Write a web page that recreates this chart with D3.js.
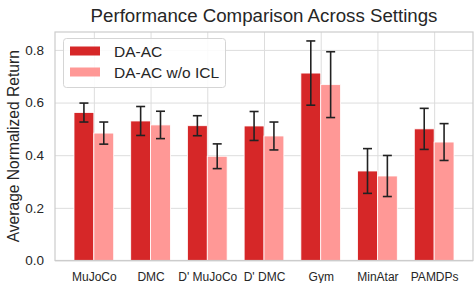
<!DOCTYPE html>
<html>
<head>
<meta charset="utf-8">
<script src="https://cdn.jsdelivr.net/npm/d3@7"></script>
<style>
  body { margin: 0; background: #fff; }
  svg { display: block; font-family: "Liberation Sans", Arial, sans-serif; }
  .grid line { stroke: #dddddd; stroke-width: 1; }
  .grid path { display: none; }
</style>
</head>
<body>
<svg id="chart" width="474" height="283"></svg>
<script>
const settings = ['MuJoCo', 'DMC', "D' MuJoCo", "D' DMC", 'Gym', 'MinAtar', 'PAMDPs'];
const daac = [0.562, 0.530, 0.512, 0.511, 0.712, 0.340, 0.500];
const daacErr = [0.036, 0.055, 0.038, 0.055, 0.122, 0.085, 0.078];
const noIcl = [0.484, 0.515, 0.396, 0.473, 0.668, 0.321, 0.450];
const noIclErr = [0.042, 0.052, 0.047, 0.053, 0.125, 0.078, 0.070];
const yTicks = [0, 0.2, 0.4, 0.6, 0.8];

const series = [
  { name: 'DA-AC', values: daac, errors: daacErr, color: '#d62728', offset: -1 },
  { name: 'DA-AC w/o ICL', values: noIcl, errors: noIclErr, color: '#ff9896', offset: 1 }
];

const barWidth = 0.35;
const plot = { left: 55, right: 473, top: 32, bottom: 260.5 };

const svg = d3.select('#chart');

const x = d3.scaleLinear()
  .domain([-0.685, settings.length - 1 + 0.685])
  .range([plot.left, plot.right]);
const y = d3.scaleLinear()
  .domain([0, 0.868])
  .range([plot.bottom, plot.top]);

// grid lines
svg.append('g').attr('class', 'grid')
  .attr('transform', `translate(0, ${plot.bottom})`)
  .call(d3.axisBottom(x).tickValues(d3.range(settings.length))
    .tickSize(-(plot.bottom - plot.top)).tickFormat(''));
svg.append('g').attr('class', 'grid')
  .attr('transform', `translate(${plot.left}, 0)`)
  .call(d3.axisLeft(y).tickValues(yTicks)
    .tickSize(-(plot.right - plot.left)).tickFormat(''));

// bars
series.forEach(s => {
  svg.append('g').selectAll('rect')
    .data(s.values)
    .enter()
    .append('rect')
    .attr('x', (d, i) => x(i + s.offset * barWidth / 2 - barWidth / 2))
    .attr('y', d => y(d))
    .attr('width', x(barWidth) - x(0))
    .attr('height', d => y(0) - y(d))
    .attr('fill', s.color)
    .attr('stroke', '#fff')
    .attr('stroke-width', 0.8);
});

// error bars
series.forEach(s => {
  const g = svg.append('g').attr('stroke', '#222').attr('stroke-width', 1.6);
  s.values.forEach((v, i) => {
    const cx = x(i + s.offset * barWidth / 2);
    const lo = y(v - s.errors[i]);
    const hi = y(v + s.errors[i]);
    g.append('line').attr('x1', cx).attr('x2', cx).attr('y1', lo).attr('y2', hi);
    g.append('line').attr('x1', cx - 4.5).attr('x2', cx + 4.5).attr('y1', lo).attr('y2', lo);
    g.append('line').attr('x1', cx - 4.5).attr('x2', cx + 4.5).attr('y1', hi).attr('y2', hi);
  });
});

// frame
svg.append('rect')
  .attr('x', plot.left).attr('y', plot.top)
  .attr('width', plot.right - plot.left).attr('height', plot.bottom - plot.top)
  .attr('fill', 'none').attr('stroke', '#cccccc').attr('stroke-width', 1.2);

// axes labels
const xAxis = svg.append('g')
  .attr('transform', `translate(0, ${plot.bottom})`)
  .call(d3.axisBottom(x).tickValues(d3.range(settings.length))
    .tickSize(0).tickPadding(12).tickFormat(i => settings[i]));
xAxis.select('.domain').remove();
xAxis.selectAll('text').attr('font-size', 12).attr('fill', '#262626')
  .attr('font-family', '"Liberation Sans", Arial, sans-serif');

const yAxis = svg.append('g')
  .attr('transform', `translate(${plot.left}, 0)`)
  .call(d3.axisLeft(y).tickValues(yTicks).tickSize(0).tickPadding(11)
    .tickFormat(d3.format('.1f')));
yAxis.select('.domain').remove();
yAxis.selectAll('text').attr('font-size', 13.5).attr('fill', '#262626')
  .attr('font-family', '"Liberation Sans", Arial, sans-serif');

svg.append('text')
  .attr('transform', `translate(19, ${(plot.top + plot.bottom) / 2}) rotate(-90)`)
  .attr('text-anchor', 'middle')
  .attr('font-size', 15.6)
  .attr('fill', '#262626')
  .text('Average Normalized Return');

svg.append('text')
  .attr('x', (plot.left + plot.right) / 2)
  .attr('y', 22)
  .attr('text-anchor', 'middle')
  .attr('font-size', 18.7)
  .attr('fill', '#262626')
  .text('Performance Comparison Across Settings');

// legend
const legend = svg.append('g');
legend.append('rect')
  .attr('x', 63.5).attr('y', 38.5).attr('width', 162).attr('height', 49)
  .attr('rx', 3)
  .attr('fill', 'rgba(255,255,255,0.85)')
  .attr('stroke', '#d5d5d5');
series.forEach((s, i) => {
  const rowY = 46.5 + i * 21;
  legend.append('rect')
    .attr('x', 70).attr('y', rowY).attr('width', 30).attr('height', 9)
    .attr('fill', s.color);
  legend.append('text')
    .attr('x', 114).attr('y', rowY + 10.3)
    .attr('font-size', 15.5).attr('fill', '#262626')
    .text(s.name);
});
</script>
</body>
</html>
